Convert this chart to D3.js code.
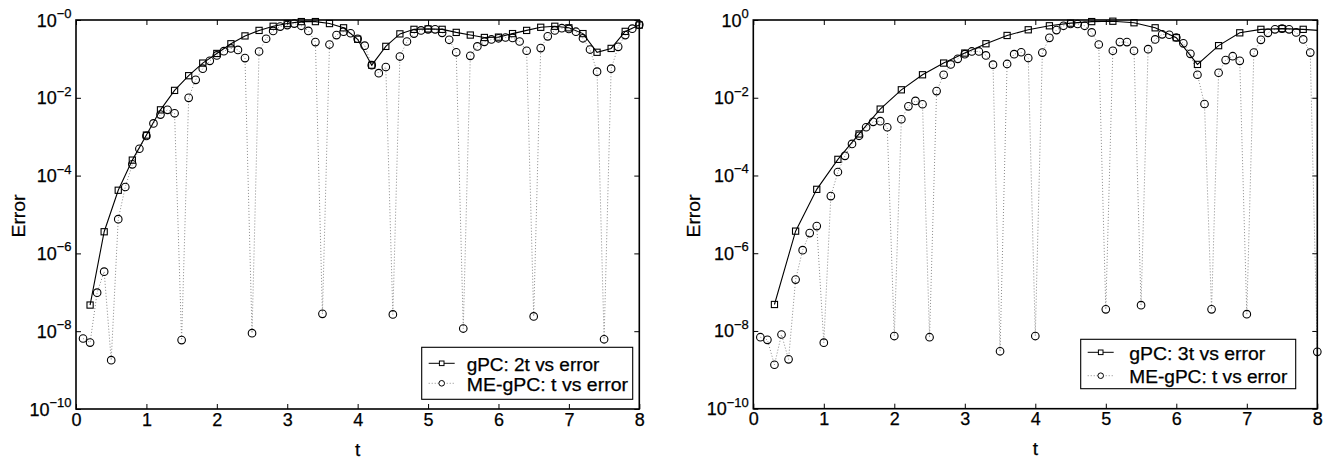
<!DOCTYPE html>
<html><head><meta charset="utf-8">
<script src="https://cdn.jsdelivr.net/npm/d3@7"></script>
<style>
body{margin:0;background:#fff}
text{font-family:"Liberation Sans",Arial,Helvetica,sans-serif;fill:#000;stroke:#000;stroke-width:0.25px}
</style>
</head><body>
<svg id="c" width="1333" height="460"></svg>
<script>
// ---------- DATA ----------
const tFine = [0.1,0.2,0.3,0.4,0.5,0.6,0.7,0.8,0.9,1.0,1.1,1.2,1.3,1.4,1.5,1.6,1.7,1.8,1.9,2.0,
  2.1,2.2,2.3,2.4,2.5,2.6,2.7,2.8,2.9,3.0,3.1,3.2,3.3,3.4,3.5,3.6,3.7,3.8,3.9,4.0,
  4.1,4.2,4.3,4.4,4.5,4.6,4.7,4.8,4.9,5.0,5.1,5.2,5.3,5.4,5.5,5.6,5.7,5.8,5.9,6.0,
  6.1,6.2,6.3,6.4,6.5,6.6,6.7,6.8,6.9,7.0,7.1,7.2,7.3,7.4,7.5,7.6,7.7,7.8,7.9,8.0];

const tGpc2 = [0.2,0.4,0.6,0.8,1.0,1.2,1.4,1.6,1.8,2.0,2.2,2.4,2.6,2.8,3.0,3.2,3.4,3.6,3.8,4.0,
  4.2,4.4,4.6,4.8,5.0,5.2,5.4,5.6,5.8,6.0,6.2,6.4,6.6,6.8,7.0,7.2,7.4,7.6,7.8,8.0];
const errGpc2 = [4.7e-8,3.6e-6,4.2e-5,2.5e-4,1.1e-3,4.9e-3,1.55e-2,3.7e-2,7.8e-2,0.138,
  0.245,0.39,0.54,0.69,0.81,0.91,0.91,0.81,0.63,0.32,
  0.069,0.21,0.44,0.575,0.59,0.575,0.48,0.41,0.355,0.363,
  0.447,0.54,0.65,0.69,0.63,0.447,0.148,0.186,0.51,0.74];

const errMeLeft = [6.5e-9,5.1e-9,9.8e-8,3.4e-7,1.8e-9,7.6e-6,5.1e-5,1.95e-4,4.9e-4,1.05e-3,
  2.2e-3,3.7e-3,4.9e-3,4.0e-3,5.9e-9,1.0e-2,2.9e-2,5.6e-2,8.9e-2,0.123,
  0.158,0.186,0.17,0.105,8.9e-9,0.155,0.33,0.525,0.676,0.74,
  0.81,0.71,0.525,0.27,2.8e-8,0.234,0.41,0.50,0.457,0.33,
  0.219,0.069,0.043,0.062,2.7e-8,0.115,0.28,0.447,0.54,0.575,
  0.575,0.468,0.31,0.148,1.17e-8,0.12,0.209,0.275,0.316,0.339,
  0.355,0.347,0.28,0.162,2.4e-8,0.19,0.38,0.54,0.617,0.59,
  0.50,0.339,0.174,0.047,6.2e-9,0.056,0.204,0.41,0.60,0.76];

const tGpc3 = [0.3,0.6,0.9,1.2,1.5,1.8,2.1,2.4,2.7,3.0,3.3,3.6,3.9,4.2,4.5,4.8,5.1,5.4,5.7,6.0,
  6.3,6.6,6.9,7.2,7.5,7.8,8.1];
const errGpc3 = [4.8e-8,3.7e-6,4.4e-5,2.6e-4,1.17e-3,5.1e-3,1.6e-2,3.9e-2,7.8e-2,0.141,
  0.245,0.40,0.56,0.71,0.83,0.91,0.93,0.85,0.63,0.35,
  0.072,0.219,0.468,0.575,0.60,0.575,0.525];

const errMeRight = [6.9e-9,5.9e-9,1.35e-9,8.1e-9,1.86e-9,2.1e-7,1.2e-6,3.3e-6,5.0e-6,5.0e-9,
  2.95e-5,1.23e-4,3.2e-4,6.5e-4,1.05e-3,1.74e-3,2.4e-3,2.5e-3,1.74e-3,7.4e-9,
  2.8e-3,6.0e-3,8.3e-3,6.8e-3,6.9e-9,1.48e-2,3.9e-2,7.2e-2,0.10,0.132,
  0.155,0.155,0.123,0.071,3.0e-9,0.074,0.132,0.148,0.105,7.4e-9,
  0.145,0.347,0.55,0.71,0.79,0.79,0.71,0.48,0.234,3.6e-8,
  0.162,0.27,0.27,0.162,4.6e-8,0.178,0.316,0.427,0.417,0.355,
  0.251,0.135,0.039,6.9e-3,3.6e-8,0.044,0.093,0.117,0.089,2.7e-8,
  0.145,0.309,0.468,0.575,0.60,0.575,0.48,0.316,0.145,2.9e-9];

const xTicks = [0,1,2,3,4,5,6,7,8];
const yTicks = [1,1e-2,1e-4,1e-6,1e-8,1e-10];
const yTickExpLeft = ["\u22120","\u22122","\u22124","\u22126","\u22128","\u221210"];
const yTickExpRight = ["0","\u22122","\u22124","\u22126","\u22128","\u221210"];
const legendLeft = ["gPC: 2t vs error","ME-gPC: t vs error"];
const legendRight = ["gPC: 3t vs error","ME-gPC: t vs error"];

// ---------- DRAW ----------
const svg = d3.select("#c");
const FONT = "'Liberation Sans',Arial,sans-serif";

function panel(cfg){
  const g = svg.append("g");
  const x = d3.scaleLinear().domain([0,8]).range([cfg.x0,cfg.x1]);
  const y = d3.scaleLog().domain([1e-10,1]).range([cfg.y1,cfg.y0]);
  const id = "clip"+cfg.id;
  svg.append("clipPath").attr("id",id).append("rect")
    .attr("x",cfg.x0).attr("y",cfg.y0-10).attr("width",cfg.x1-cfg.x0).attr("height",cfg.y1-cfg.y0+10);

  const axB = g.append("g").attr("transform",`translate(0,${cfg.y1})`)
    .call(d3.axisBottom(x).tickValues(xTicks).tickSize(-5).tickPadding(4).tickFormat(d3.format("d")));
  const axT = g.append("g").attr("transform",`translate(0,${cfg.y0})`)
    .call(d3.axisTop(x).tickValues(xTicks).tickSize(-5).tickFormat(""));
  const axL = g.append("g").attr("transform",`translate(${cfg.x0},0)`)
    .call(d3.axisLeft(y).tickValues(yTicks).tickSize(-5).tickFormat(""));
  const axR = g.append("g").attr("transform",`translate(${cfg.x1},0)`)
    .call(d3.axisRight(y).tickValues(yTicks).tickSize(-5).tickFormat(""));
  [axB,axT,axL,axR].forEach(a=>{
    a.select(".domain").remove();
    a.attr("font-size",18).attr("font-family",FONT);
    a.selectAll(".tick line").attr("stroke","#000").attr("stroke-width",1);
  });
  axB.selectAll("text").attr("fill","#000");

  yTicks.forEach((v,i)=>{
    const t = g.append("text").attr("x",cfg.x0-4.5).attr("y",y(v)+6.5)
      .attr("text-anchor","end").attr("font-size",18);
    t.append("tspan").text("10");
    t.append("tspan").attr("dy",-8.5).attr("font-size",13).text(cfg.exps[i]);
  });

  const lineFn = d3.line().x(d=>x(d[0])).y(d=>y(d[1]));
  const me = tFine.map((t,i)=>[t,cfg.me[i]]);
  const gp = cfg.tg.map((t,i)=>[t,cfg.gp[i]]);
  g.append("path").datum(me).attr("d",lineFn).attr("fill","none")
    .attr("stroke","#8a8a8a").attr("stroke-width",1).attr("stroke-dasharray","1,2")
    .attr("clip-path",`url(#${id})`);
  g.append("path").datum(gp).attr("d",lineFn).attr("fill","none")
    .attr("stroke","#000").attr("stroke-width",1.1)
    .attr("clip-path",`url(#${id})`);

  const s = 6.2;
  g.selectAll(".sq").data(gp.filter(d=>d[0]<=8)).enter().append("rect")
    .attr("x",d=>x(d[0])-s/2).attr("y",d=>y(d[1])-s/2).attr("width",s).attr("height",s)
    .attr("fill","none").attr("stroke","#000").attr("stroke-width",1.1);
  g.selectAll(".ci").data(me).enter().append("circle")
    .attr("cx",d=>x(d[0])).attr("cy",d=>y(d[1])).attr("r",3.8)
    .attr("fill","none").attr("stroke","#000").attr("stroke-width",1.1);

  g.append("rect").attr("x",cfg.x0).attr("y",cfg.y0).attr("width",cfg.x1-cfg.x0).attr("height",cfg.y1-cfg.y0)
    .attr("fill","none").attr("stroke","#000").attr("stroke-width",1.6);

  g.append("text").attr("transform",`translate(${cfg.ylabX},216) rotate(-90)`)
    .attr("text-anchor","middle").attr("font-size",19).attr("textLength",43).attr("lengthAdjust","spacingAndGlyphs").text("Error");
  g.append("text").attr("x",(cfg.x0+cfg.x1)/2).attr("y",cfg.xlabY)
    .attr("text-anchor","middle").attr("font-size",19).text("t");

  const L = cfg.leg;
  g.append("rect").attr("x",L.x).attr("y",L.y).attr("width",L.w).attr("height",L.h)
    .attr("fill","#fff").attr("stroke","#000").attr("stroke-width",1.1);
  const lx0 = L.x+7, lx1 = L.x+33, lxm = (lx0+lx1)/2;
  g.append("line").attr("x1",lx0).attr("x2",lx1).attr("y1",L.r1).attr("y2",L.r1).attr("stroke","#000").attr("stroke-width",1);
  g.append("rect").attr("x",lxm-2.3).attr("y",L.r1-2.3).attr("width",4.6).attr("height",4.6)
    .attr("fill","#fff").attr("stroke","#000").attr("stroke-width",1);
  g.append("line").attr("x1",lx0).attr("x2",lx1).attr("y1",L.r2).attr("y2",L.r2).attr("stroke","#8a8a8a")
    .attr("stroke-width",1).attr("stroke-dasharray","1,2");
  g.append("circle").attr("cx",lxm).attr("cy",L.r2).attr("r",2.8).attr("fill","#fff").attr("stroke","#000").attr("stroke-width",1);
  g.append("text").attr("x",L.tx).attr("y",L.b1).attr("font-size",18)
    .attr("textLength",L.w1).attr("lengthAdjust","spacingAndGlyphs").text(cfg.legText[0]);
  g.append("text").attr("x",L.tx).attr("y",L.b2).attr("font-size",18)
    .attr("textLength",L.w2).attr("lengthAdjust","spacingAndGlyphs").text(cfg.legText[1]);
}

panel({id:"L",x0:76,x1:639.3,y0:20,y1:409,tg:tGpc2,gp:errGpc2,me:errMeLeft,exps:yTickExpLeft,
  ylabX:24.5,xlabY:455.5,legText:legendLeft,
  leg:{x:421.7,y:347.3,w:211,h:52,r1:363.3,r2:383.3,tx:466.7,b1:371,b2:391.3,w1:132.7,w2:161.3}});
panel({id:"R",x0:753.3,x1:1317.3,y0:20,y1:408.7,tg:tGpc3,gp:errGpc3,me:errMeRight,exps:yTickExpRight,
  ylabX:700,xlabY:454.5,legText:legendRight,
  leg:{x:1080.7,y:339.3,w:215,h:49.4,r1:352.3,r2:375.7,tx:1129.3,b1:359.6,b2:383,w1:136,w2:158}});
</script>
</body></html>
